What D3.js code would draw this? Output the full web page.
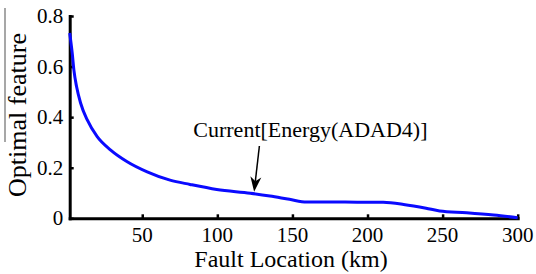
<!DOCTYPE html>
<html>
<head>
<meta charset="utf-8">
<script src="https://cdn.jsdelivr.net/npm/d3@7"></script>
</head>
<body style="margin:0">
<script>
// fault location (km) and optimal feature value
const faultKm = [1.7, 3.4, 4.5, 6.3, 9, 13.4, 20, 29, 40, 53.3, 68.5, 81.8, 99.6, 122, 135, 148, 159.5, 185, 210.5, 224, 239, 248, 266, 284, 300];
const featureVals = [0.733, 0.652, 0.586, 0.52, 0.455, 0.389, 0.323, 0.27, 0.224, 0.184, 0.151, 0.134, 0.114, 0.099, 0.088, 0.075, 0.064, 0.064, 0.063, 0.055, 0.04, 0.029, 0.022, 0.013, 0.002];
const xTicks = [50, 100, 150, 200, 250, 300];
const yTicks = [0, 0.2, 0.4, 0.6, 0.8];
const annotationLabel = 'Current[Energy(ADAD4)]';

const width = 536, height = 274;

const svg = d3.select('body')
  .append('svg')
  .attr('width', width)
  .attr('height', height)
  .attr('font-family', 'Liberation Serif')
  .style('display', 'block');

// helper for serif text
function label(parent, txt, size) {
  return parent.append('text')
    .attr('font-family', 'Liberation Serif')
    .attr('font-size', size)
    .attr('fill', '#000')
    .text(txt);
}

const x = d3.scaleLinear().domain([1.7, 300]).range([69.7, 517.7]);
const y = d3.scaleLinear().domain([0, 0.8]).range([218.3, 16]);

// axes: lines from d3, labels added in serif
const xAxis = svg.append('g')
  .attr('transform', `translate(0,${y(0)})`)
  .call(d3.axisBottom(x).tickValues(xTicks).tickSizeInner(-4).tickSizeOuter(0).tickFormat(''));

const yAxis = svg.append('g')
  .attr('transform', `translate(${x(1.7)},0)`)
  .call(d3.axisLeft(y).tickValues(yTicks).tickSizeInner(-4).tickSizeOuter(0).tickFormat(''));

[xAxis, yAxis].forEach(g => {
  g.attr('font-family', null).attr('font-size', null);
  g.select('.domain').attr('stroke', '#000').attr('stroke-width', 3).attr('stroke-linecap', 'square');
  g.selectAll('.tick line').attr('stroke', '#000').attr('stroke-width', 2.5);
});

xTicks.forEach(t => {
  label(svg, String(t), 21)
    .attr('x', x(t))
    .attr('y', y(0) + 23.4)
    .attr('text-anchor', 'middle');
});

yTicks.forEach(t => {
  label(svg, t === 0 ? '0' : d3.format('.1f')(t), 21)
    .attr('x', x(1.7) - 6.5)
    .attr('y', y(t) + 7)
    .attr('text-anchor', 'end');
});

// curve
const line = d3.line()
  .x((d, i) => x(faultKm[i]))
  .y(d => y(d))
  .curve(d3.curveMonotoneX);

svg.append('path')
  .datum(featureVals)
  .attr('fill', 'none')
  .attr('stroke', '#0a0aff')
  .attr('stroke-width', 3)
  .attr('stroke-linejoin', 'round')
  .attr('d', line);

// annotation text and arrow
label(svg, annotationLabel, 22)
  .attr('x', x(84))
  .attr('y', y(0.32));

const tail = [x(128), y(0.286)];
const tip = [x(124.5), y(0.105)];
const ang = Math.atan2(tip[1] - tail[1], tip[0] - tail[0]);
const headLen = 15, headW = 5.5;
const back = [tip[0] - headLen * Math.cos(ang), tip[1] - headLen * Math.sin(ang)];
const notch = [tip[0] - headLen * 0.7 * Math.cos(ang), tip[1] - headLen * 0.7 * Math.sin(ang)];
const px = -Math.sin(ang), py = Math.cos(ang);

svg.append('line')
  .attr('x1', tail[0]).attr('y1', tail[1])
  .attr('x2', notch[0]).attr('y2', notch[1])
  .attr('stroke', '#000')
  .attr('stroke-width', 1.5);

svg.append('path')
  .attr('d', `M${tip[0]},${tip[1]} L${back[0] + px * headW},${back[1] + py * headW} L${notch[0]},${notch[1]} L${back[0] - px * headW},${back[1] - py * headW} Z`)
  .attr('fill', '#000');

// axis titles
label(svg, 'Optimal feature', 26)
  .attr('transform', 'translate(26,115) rotate(-90)')
  .attr('text-anchor', 'middle');

svg.append('line')
  .attr('x1', 5).attr('x2', 5)
  .attr('y1', 8).attr('y2', 142)
  .attr('stroke', '#8a8a8a')
  .attr('stroke-width', 1.5);

label(svg, 'Fault Location (km)', 24)
  .attr('x', 291)
  .attr('y', 266.7)
  .attr('text-anchor', 'middle');
</script>
</body>
</html>
